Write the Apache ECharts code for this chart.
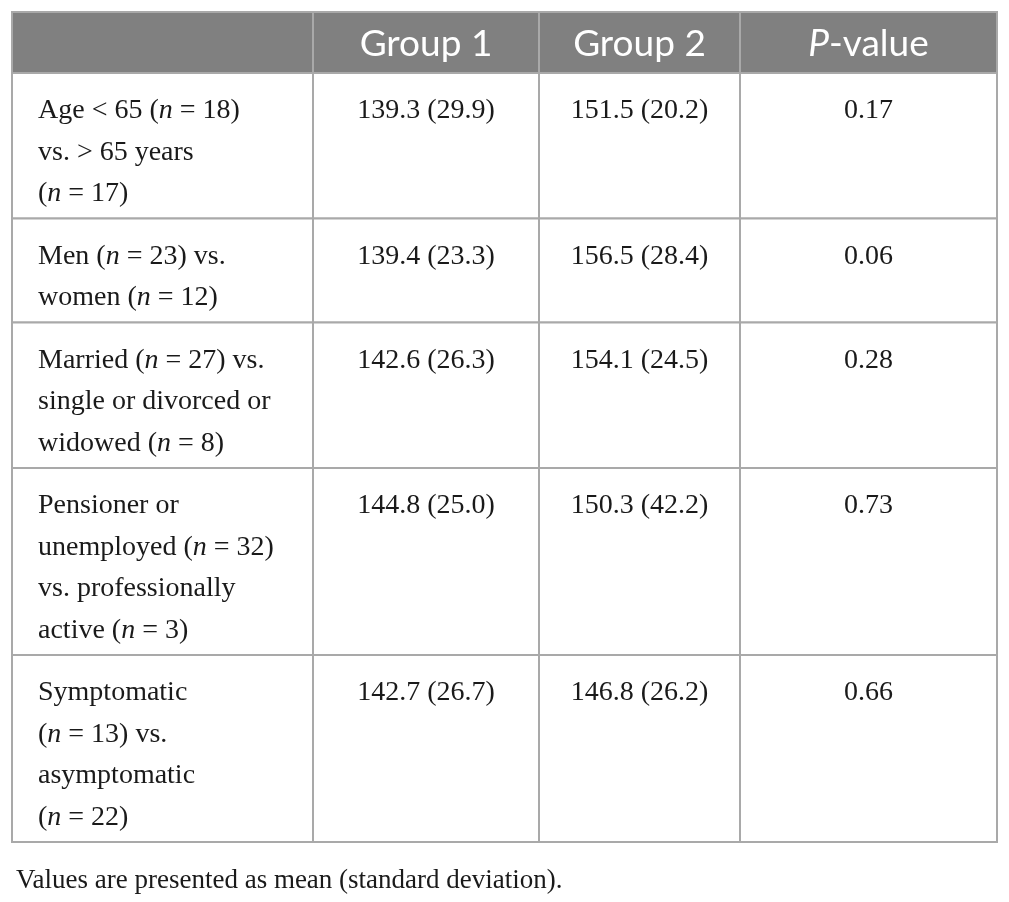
<!DOCTYPE html>
<html>
<head>
<meta charset="utf-8">
<script src="https://cdn.jsdelivr.net/npm/echarts@6/dist/echarts.min.js"></script>
<style>
  html, body { margin: 0; padding: 0; background: #fff; }
  #main { width: 1009px; height: 902px; }
</style>
</head>
<body>
<div id="main"></div>
<script>
// table content
var headers = ['', 'Group 1', 'Group 2', '{pi|P}-value'];
var comparisons = [
  ['Age < 65 ({i|n} = 18)', 'vs. > 65 years', '({i|n} = 17)'],
  ['Men ({i|n} = 23) vs.', 'women ({i|n} = 12)'],
  ['Married ({i|n} = 27) vs.', 'single or divorced or', 'widowed ({i|n} = 8)'],
  ['Pensioner or', 'unemployed ({i|n} = 32)', 'vs. professionally', 'active ({i|n} = 3)'],
  ['Symptomatic', '({i|n} = 13) vs.', 'asymptomatic', '({i|n} = 22)']
];
var group1Mean = [139.3, 139.4, 142.6, 144.8, 142.7];
var group1SD = [29.9, 23.3, 26.3, 25.0, 26.7];
var group2Mean = [151.5, 156.5, 154.1, 150.3, 146.8];
var group2SD = [20.2, 28.4, 24.5, 42.2, 26.2];
var pValues = [0.17, 0.06, 0.28, 0.73, 0.66];
var footnote = 'Values are presented as mean (standard deviation).';

// layout (pixel units of the hidden axes)
var colEdges = [0, 301, 527, 728, 985];
var headerH = 61;
var lineH = 41.5;
var rowPad = 21;

var rowEdges = [0, headerH];
comparisons.forEach(function (c) {
  rowEdges.push(rowEdges[rowEdges.length - 1] + rowPad + lineH * c.length);
});

function fmt(m, s) { return m.toFixed(1) + ' (' + s.toFixed(1) + ')'; }

var cells = [];
headers.forEach(function (h, c) { cells.push([c, 0, h]); });
comparisons.forEach(function (lines, r) {
  cells.push([0, r + 1, lines.join('\n')]);
  cells.push([1, r + 1, fmt(group1Mean[r], group1SD[r])]);
  cells.push([2, r + 1, fmt(group2Mean[r], group2SD[r])]);
  cells.push([3, r + 1, pValues[r].toFixed(2)]);
});

var serif = "'Liberation Serif', 'DejaVu Serif', serif";
var sans = "Lato, 'Open Sans', sans-serif";
var ink = '#1a1a1a';
var bodySize = 28;
var headSize = 37;

function renderItem(params, api) {
  var c = api.value(0), r = api.value(1);
  var txt = cells[params.dataIndex][2];
  var p0 = api.coord([colEdges[c], rowEdges[r]]);
  var p1 = api.coord([colEdges[c + 1], rowEdges[r + 1]]);
  var isHead = r === 0;
  var textStyle;
  if (isHead) {
    textStyle = {
      text: txt,
      x: (p0[0] + p1[0]) / 2,
      y: (p0[1] + p1[1]) / 2 + 2,
      align: 'center',
      verticalAlign: 'middle',
      fill: '#fff',
      fontFamily: sans,
      fontSize: headSize,
      rich: { pi: { fontStyle: 'italic', fontFamily: sans, fontSize: headSize, fill: '#fff' } }
    };
  } else {
    textStyle = {
      text: txt,
      x: c === 0 ? p0[0] + 26 : (p0[0] + p1[0]) / 2,
      y: p0[1] + 17,
      align: c === 0 ? 'left' : 'center',
      verticalAlign: 'top',
      fill: ink,
      fontFamily: serif,
      fontSize: bodySize,
      lineHeight: lineH,
      rich: {
        i: { fontStyle: 'italic', fontFamily: serif, fontSize: bodySize, lineHeight: lineH, fill: ink }
      }
    };
  }
  return {
    type: 'group',
    children: [
      {
        type: 'rect',
        shape: { x: p0[0], y: p0[1], width: p1[0] - p0[0], height: p1[1] - p0[1] },
        style: { fill: isHead ? '#808080' : '#fff', stroke: '#a9a9a9', lineWidth: 2 }
      },
      { type: 'text', style: textStyle }
    ]
  };
}

var chart = echarts.init(document.getElementById('main'));
chart.setOption({
  animation: false,
  title: {
    text: footnote,
    left: 11,
    top: 862,
    textStyle: { fontFamily: serif, fontSize: 27, fontWeight: 'normal', color: ink }
  },
  grid: { left: 12, top: 12, width: 985, height: rowEdges[rowEdges.length - 1] },
  xAxis: { type: 'value', min: 0, max: 985, show: false },
  yAxis: { type: 'value', min: 0, max: rowEdges[rowEdges.length - 1], inverse: true, show: false },
  series: [{
    type: 'custom',
    renderItem: renderItem,
    data: cells.map(function (d) { return [d[0], d[1]]; }),
    clip: false,
    silent: true
  }]
});
</script>
</body>
</html>
